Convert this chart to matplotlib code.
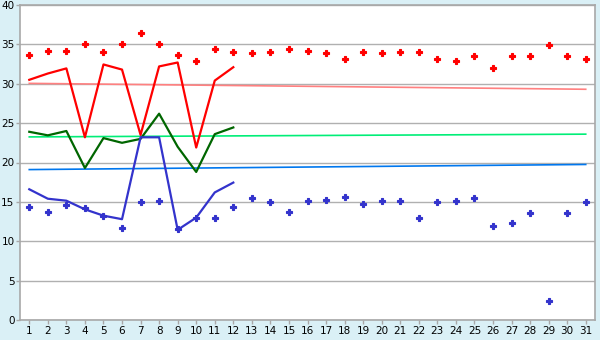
import matplotlib
matplotlib.use("Agg")
import matplotlib.pyplot as plt

# days of the month
days = list(range(1, 32))
days_line = list(range(1, 13))

# scattered daily values
red_pts = [33.7, 34.1, 34.2, 35.0, 34.0, 35.0, 36.4, 35.0, 33.6, 32.85,
           34.4, 34.0, 33.9, 34.0, 34.4, 34.2, 33.9, 33.1, 34.0, 33.9,
           34.0, 34.0, 33.2, 32.85, 33.5, 31.95, 33.5, 33.5, 34.9, 33.5, 33.2]
blue_pts = [14.3, 13.7, 14.55, 14.2, 13.2, 11.65, 14.95, 15.05, 11.5, 13.0,
            13.0, 14.4, 15.45, 14.95, 13.7, 15.05, 15.2, 15.6, 14.7, 15.05,
            15.05, 13.0, 14.95, 15.05, 15.45, 12.0, 12.3, 13.55, 2.35, 13.55, 14.95]

# lines for the first 12 days
red_line = [30.5, 31.3, 31.95, 23.2, 32.45, 31.8, 23.5, 32.2, 32.7, 21.9, 30.4, 32.1]
green_line = [23.9, 23.45, 24.0, 19.3, 23.1, 22.5, 23.0, 26.2, 22.0, 18.8, 23.6, 24.45]
blue_line = [16.6, 15.4, 15.15, 14.05, 13.25, 12.8, 23.2, 23.2, 11.45, 13.0, 16.2, 17.45]

# trend lines (start / end)
trend_days = [1, 31]
red_trend = [30.05, 29.3]
green_trend = [23.25, 23.6]
blue_trend = [19.1, 19.75]

bg = "#daf0f6"
fig = plt.figure(figsize=(6, 3.4), dpi=100, facecolor=bg)
ax = fig.add_axes([20/600, 20/340, 575/600, 315/340])
ax.set_facecolor("white")

ax.plot(trend_days, red_trend, color="#ff8080", lw=1.2)
ax.plot(trend_days, green_trend, color="#00ee77", lw=1.2)
ax.plot(trend_days, blue_trend, color="#0077ee", lw=1.2)

ax.plot(days_line, red_line, color="#ff0000", lw=1.6)
ax.plot(days_line, green_line, color="#006600", lw=1.6)
ax.plot(days_line, blue_line, color="#3333cc", lw=1.6)

ax.plot(days, red_pts, ls="none", marker="P", ms=4, color="#ff0000", mew=0.8)
ax.plot(days, blue_pts, ls="none", marker="P", ms=4, color="#3333cc", mew=0.8)

ax.set_xlim(0.5, 31.5)
ax.set_ylim(0, 40)
ax.set_xticks(days)
ax.set_yticks(range(0, 41, 5))
ax.yaxis.grid(True, color="#b0b0b0", lw=1)
ax.set_axisbelow(True)
for s in ax.spines.values():
    s.set_color("#a8a8a8")
    s.set_linewidth(1.2)
ax.tick_params(axis="both", labelsize=7.5, colors="#a8a8a8", labelcolor="black",
               length=3, width=1, pad=1)

fig.savefig("out.png", dpi=100, facecolor=bg)
